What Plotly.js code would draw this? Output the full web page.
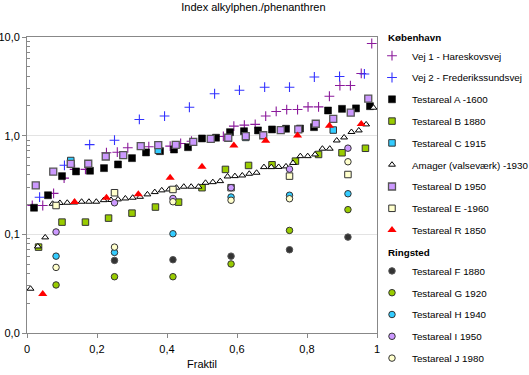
<!DOCTYPE html>
<html>
<head>
<meta charset="utf-8">
<script src="https://cdn.plot.ly/plotly-3.0.1.min.js"></script>
<style>html,body{margin:0;padding:0;background:#fff;}#chart{width:529px;height:375px;}</style>
</head>
<body>
<div id="chart"></div>
<script>
// ---- data ----
const vej1X = [0.015,0.045,0.076,0.106,0.136,0.167,0.227,0.258,0.288,0.348,0.409,0.439,0.470,0.561,0.591,0.621,0.652,0.682,0.712,0.742,0.773,0.803,0.833,0.864,0.894,0.924,0.955,0.985];
const vej1Y = [0.196,0.196,0.26,0.371,0.455,0.455,0.671,0.68,0.754,0.773,0.784,0.834,0.879,0.982,1.25,1.28,1.30,1.58,1.76,1.84,1.84,1.96,1.96,2.51,3.22,3.22,4.27,8.59];

const vej2X = [0.036,0.107,0.179,0.25,0.321,0.393,0.464,0.536,0.607,0.679,0.75,0.821,0.893,0.964];
const vej2Y = [0.238,0.501,0.811,0.90,1.46,1.58,1.94,2.66,2.89,3.10,3.10,3.93,3.98,4.22];

const aX = [0.02,0.06,0.10,0.14,0.18,0.22,0.26,0.30,0.34,0.38,0.42,0.46,0.50,0.54,0.58,0.62,0.66,0.70,0.74,0.78,0.82,0.86,0.90,0.94,0.98];
const aY = [0.186,0.249,0.389,0.434,0.441,0.469,0.511,0.592,0.676,0.697,0.724,0.764,0.937,0.953,1.085,1.11,1.13,1.156,1.175,1.18,1.22,1.80,1.87,1.89,1.99];

const bX = [0.033,0.1,0.167,0.233,0.3,0.367,0.433,0.5,0.567,0.633,0.7,0.767,0.833,0.9,0.967];
const bY = [0.0742,0.133,0.133,0.146,0.164,0.189,0.212,0.297,0.455,0.499,0.507,0.552,0.645,0.671,0.745];

const cX = [0.125,0.375,0.625,0.875];
const cY = [0.56,0.71,0.96,1.14];

const amagerX = [0.010,0.031,0.052,0.073,0.094,0.115,0.135,0.156,0.177,0.198,0.219,0.240,0.260,0.281,0.302,0.323,0.344,0.365,0.385,0.406,0.427,0.448,0.469,0.490,0.510,0.531,0.552,0.573,0.594,0.615,0.635,0.656,0.677,0.698,0.719,0.740,0.760,0.781,0.802,0.823,0.844,0.865,0.885,0.906,0.927,0.948,0.969,0.990];
const amagerY = [0.0281,0.0754,0.0931,0.204,0.208,0.209,0.21,0.214,0.214,0.214,0.222,0.223,0.226,0.231,0.235,0.240,0.254,0.268,0.279,0.285,0.297,0.304,0.304,0.304,0.333,0.338,0.346,0.386,0.389,0.395,0.411,0.421,0.480,0.480,0.482,0.488,0.529,0.620,0.620,0.645,0.738,0.738,0.894,0.959,1.09,1.13,1.30,1.92];

const dX = [0.025,0.075,0.125,0.175,0.225,0.275,0.325,0.375,0.425,0.475,0.525,0.575,0.625,0.675,0.725,0.775,0.825,0.875,0.925,0.975];
const dY = [0.313,0.432,0.517,0.519,0.615,0.634,0.783,0.801,0.808,0.864,0.930,0.953,0.988,1.01,1.14,1.156,1.32,1.48,1.71,2.37];

const eX = [0.083,0.25,0.417,0.583,0.75,0.917];
const eY = [0.196,0.264,0.285,0.297,0.389,0.404];

const rX = [0.045,0.136,0.227,0.318,0.409,0.5,0.591,0.682,0.773,0.864,0.955];
const rY = [0.0249,0.213,0.235,0.255,0.374,0.484,0.796,0.887,1.005,1.26,1.31];

const fX = [0.25,0.417,0.583,0.75,0.917];
const fY = [0.0544,0.0553,0.0601,0.0698,0.0937];

const ringX = [0.083,0.25,0.417,0.583,0.75,0.917];
const gY = [0.0307,0.0372,0.0372,0.0501,0.1096,0.178];
const hY = [0.0601,0.0656,0.1014,0.239,0.249,0.258];
const iY = [0.1057,0.209,0.231,0.297,0.458,0.747];
const jY = [0.0462,0.0742,0.214,0.2215,0.2295,0.544];

const yTickVals = [0.01,0.1,1,10];
const yTickText = ['0,0','0,1','1,0','10,0'];
const titleText = 'Index alkylphen./phenanthren';
const xTitleText = 'Fraktil';
const groupKbh = 'København';
const groupRing = 'Ringsted';

// minor tick positions of the log axis (2..9 in each decade)
const minorVals = [];
[0.01,0.1,1].forEach(function(d){ for(let k=2;k<=9;k++){ minorVals.push(d*k); } });

// ---- traces ----
const OUT = '#333333';
const PAD = '\u00A0\u00A0\u00A0\u00A0';
let gi = 0;
function tr(name, x, y, marker, groupTitle){
  gi++;
  const t = {type:'scatter', mode:'markers', name:name, x:x, y:y, marker:marker,
             legendgroup:'g'+gi, cliponaxis:false};
  if(groupTitle){ t.legendgrouptitle = {text:PAD+'<b>'+groupTitle+'</b>', font:{size:9.8, color:'#000'}}; }
  return t;
}
const traces = [
  tr('Vej 1 - Hareskovsvej', vej1X, vej1Y, {symbol:'cross-thin-open', size:7, line:{color:'#8B1A9B', width:1.1}, color:'#8B1A9B'}, groupKbh),
  tr('Vej 2 - Frederikssundsvej', vej2X, vej2Y, {symbol:'cross-thin-open', size:7, line:{color:'#3333FF', width:1.1}, color:'#3333FF'}),
  tr('Testareal A -1600', aX, aY, {symbol:'square', size:7, color:'#000000', line:{color:'#000', width:0.5}}),
  tr('Testareal B 1880', bX, bY, {symbol:'square', size:6.5, color:'#99CC00', line:{color:OUT, width:1}}),
  tr('Testareal C 1915', cX, cY, {symbol:'square', size:6.5, color:'#33CCFF', line:{color:OUT, width:1}}),
  tr('Amager (valseværk) -1930', amagerX, amagerY, {symbol:'triangle-up', size:6, color:'#FFFFFF', line:{color:'#000', width:1}}),
  tr('Testareal D 1950', dX, dY, {symbol:'square', size:7, color:'#CC99FF', line:{color:'#555555', width:1.3}}),
  tr('Testareal E -1960', eX, eY, {symbol:'square', size:6.5, color:'#FFFFCC', line:{color:OUT, width:1}}),
  tr('Testareal R 1850', rX, rY, {symbol:'triangle-up', size:8, color:'#FF0000', line:{width:0}}),
  tr('Testareal F 1880', fX, fY, {symbol:'circle', size:6.5, color:'#333333', line:{color:'#555', width:1}}, groupRing),
  tr('Testareal G 1920', ringX, gY, {symbol:'circle', size:6.5, color:'#99CC00', line:{color:OUT, width:1}}),
  tr('Testareal H 1940', ringX, hY, {symbol:'circle', size:6.5, color:'#33CCFF', line:{color:OUT, width:1}}),
  tr('Testareal I 1950', ringX, iY, {symbol:'circle', size:6.5, color:'#CC99FF', line:{color:OUT, width:1}}),
  tr('Testareal J 1980', ringX, jY, {symbol:'circle', size:6.5, color:'#FFFFCC', line:{color:OUT, width:1}})
];

const FONT = 'Liberation Sans, Arial, sans-serif';
const layout = {
  width:529, height:375,
  margin:{l:27, r:152, t:37, b:42, autoexpand:false},
  paper_bgcolor:'#fff', plot_bgcolor:'#fff',
  separators:', ',
  font:{family:FONT, size:10, color:'#000'},
  title:{text:titleText, font:{size:11, color:'#000'}, xref:'container', x:0.479, xanchor:'center', yref:'container', y:0.99, yanchor:'top'},
  xaxis:{range:[0,1], dtick:0.2, tick0:0, showgrid:false, zeroline:false,
         showline:true, linecolor:'#888', linewidth:1, mirror:true,
         ticks:'outside', ticklen:4, tickcolor:'#888', tickfont:{size:11}, ticklabelstandoff:2,
         title:{text:xTitleText, font:{size:11}, standoff:6}, automargin:false},
  yaxis:{type:'log', range:[-2,1], tickmode:'array', tickvals:yTickVals, ticktext:yTickText,
         showgrid:true, gridcolor:'#e3e3e3', zeroline:false,
         showline:true, linecolor:'#888', linewidth:1, mirror:true,
         ticks:'outside', ticklen:4, tickcolor:'#888', tickfont:{size:11},
         minor:{tickmode:'array', tickvals:minorVals, ticks:'inside', ticklen:3, tickcolor:'#888', showgrid:false},
         automargin:false},
  showlegend:true,
  legend:{x:0.9857, xanchor:'left', y:1.05, yanchor:'top', font:{size:9.8, color:'#000'},
          bgcolor:'rgba(0,0,0,0)', borderwidth:0, tracegroupgap:2.8, maxheight:400}
};
Plotly.newPlot('chart', traces, layout, {staticPlot:true, displayModeBar:false});
</script>
</body>
</html>
